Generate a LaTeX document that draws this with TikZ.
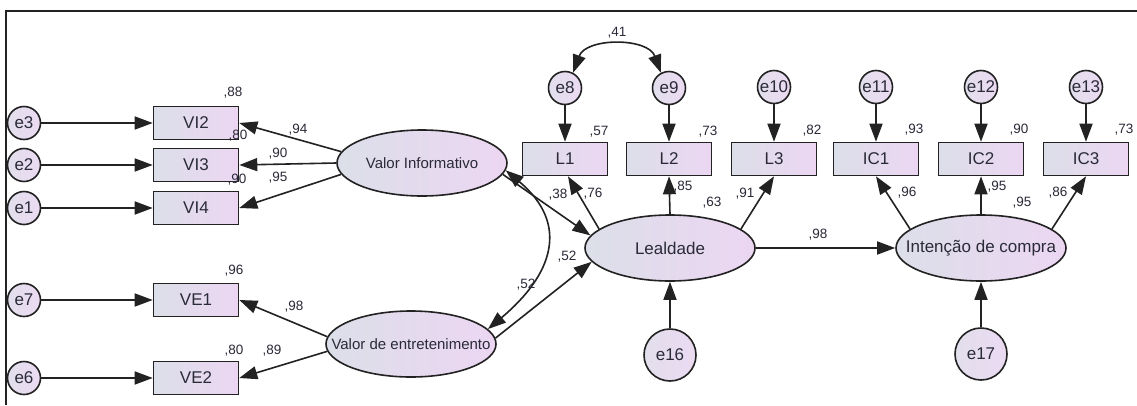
\documentclass[tikz,border=0pt]{standalone}
\usepackage{fontspec}
\setmainfont{Liberation Sans}
\usetikzlibrary{shapes.geometric,arrows.meta}
\definecolor{boxl}{HTML}{DCDFE9}
\definecolor{boxr}{HTML}{ECD6F2}
\definecolor{errl}{HTML}{E2DFEC}
\definecolor{errr}{HTML}{EBDAF2}
\definecolor{linec}{HTML}{222222}
\definecolor{textc}{HTML}{2A2A38}
\tikzset{
  obs/.style={draw=linec, line width=1.6pt, minimum width=85pt, minimum height=33pt,
    left color=boxl, right color=boxr, inner sep=0pt, text=textc,
    font=\fontsize{17}{17}\selectfont},
  lat/.style={ellipse, draw=linec, line width=1.6pt, minimum width=170pt, minimum height=66pt,
    left color=boxl, right color=boxr, inner xsep=-30pt, inner ysep=0pt, text=textc},
  err/.style={circle, draw=linec, line width=1.6pt, minimum size=33pt,
    left color=errl, right color=errr, inner sep=0pt, text=textc,
    font=\fontsize{17}{17}\selectfont},
  errbig/.style={err, minimum size=52pt},
  arr/.style={-{Triangle[length=18pt,width=13pt]}, line width=1.6pt, draw=linec},
  darr/.style={{Triangle[length=18pt,width=13pt]}-{Triangle[length=18pt,width=13pt]}, line width=1.6pt, draw=linec},
  lab/.style={inner sep=0pt, text=textc, font=\fontsize{13.5}{13.5}\selectfont},
  fs15/.style={font=\fontsize{15}{15}\selectfont},
  fs17/.style={font=\fontsize{17}{17}\selectfont}
}
\begin{document}
\begin{tikzpicture}[x=1pt,y=1pt]
\useasboundingbox (0,0) rectangle (1137,-405);
\fill[white] (0,0) rectangle (1137,-405);
\draw[line width=2pt, linec] (6,-405) -- (6,-11) -- (1137,-11);

% left observed variables
\node[obs] (VI2) at (196,-123) {VI2};
\node[obs] (VI3) at (196,-165) {VI3};
\node[obs] (VI4) at (196,-208) {VI4};
\node[obs] (VE1) at (196,-300) {VE1};
\node[obs] (VE2) at (196,-378) {VE2};

\node[err] (e3) at (24,-123) {e3};
\node[err] (e2) at (24,-165) {e2};
\node[err] (e1) at (24,-208) {e1};
\node[err] (e7) at (24,-300) {e7};
\node[err] (e6) at (24,-378) {e6};

% latent variables
\node[lat, fs15] (vi) at (422,-163) {Valor Informativo};
\node[lat, fs15] (ve) at (411,-344) {Valor de entretenimento};
\node[lat, fs17] (lea) at (670,-248) {Lealdade};
\node[lat, fs17] (ic) at (981,-248) {Intenção de compra};

% top observed variables
\node[obs] (L1) at (565,-159) {L1};
\node[obs] (L2) at (669,-159) {L2};
\node[obs] (L3) at (774,-159) {L3};
\node[obs] (IC1) at (876,-159) {IC1};
\node[obs] (IC2) at (981,-159) {IC2};
\node[obs] (IC3) at (1086,-159) {IC3};

\node[err] (e8) at (565,-88) {e8};
\node[err] (e9) at (669,-88) {e9};
\node[err] (e10) at (774,-87) {e10};
\node[err] (e11) at (876,-87) {e11};
\node[err] (e12) at (981,-87) {e12};
\node[err] (e13) at (1086,-87) {e13};

\node[errbig] (e16) at (670,-355) {e16};
\node[errbig] (e17) at (981,-354) {e17};

% error arrows
\draw[arr] (e3) -- (VI2);
\draw[arr] (e2) -- (VI3);
\draw[arr] (e1) -- (VI4);
\draw[arr] (e7) -- (VE1);
\draw[arr] (e6) -- (VE2);
\draw[arr] (e8) -- (L1);
\draw[arr] (e9) -- (L2);
\draw[arr] (e10) -- (L3);
\draw[arr] (e11) -- (IC1);
\draw[arr] (e12) -- (IC2);
\draw[arr] (e13) -- (IC3);
\draw[arr] (e16) -- (lea);
\draw[arr] (e17) -- (ic);

% loadings
\draw[arr] (vi.172) -- (VI2.east);
\draw[arr] (vi.180) -- (VI3.east);
\draw[arr] (vi.188) -- (VI4.east);
\draw[arr] (ve.175) -- (VE1.east);
\draw[arr] (ve.185) -- (VE2.east);
\draw[arr] (lea.165) -- ([xshift=3pt]L1.south);
\draw[arr] (lea.north) -- (L2.south);
\draw[arr] (lea.15) -- (L3.south);
\draw[arr] (ic.165) -- (IC1.south);
\draw[arr] (ic.north) -- (IC2.south);
\draw[arr] (ic.15) -- (IC3.south);

% structural paths
\draw[arr] (vi.-8) -- (lea.171);
\draw[arr] (ve.4) -- (lea.190);
\draw[arr] (lea.east) -- (ic.west);

% covariances
\draw[darr] (vi.-5) to[out=-40,in=40,looseness=1.35] (ve.11);
\draw[darr] (e8.62) to[out=70,in=110,looseness=1.1] (e9.118);

% labels
\node[lab] (l88) at (233,-93) {,88};
\node[lab] (l94) at (298,-130) {,94};
\node[lab] (l80a) at (238,-136) {,80};
\node[lab] (l90a) at (278,-154) {,90};
\node[lab] (l90b) at (237,-180) {,90};
\node[lab] (l95a) at (278,-178) {,95};
\node[lab] (l96a) at (234,-271) {,96};
\node[lab] (l98a) at (294,-307) {,98};
\node[lab] (l80b) at (234,-351) {,80};
\node[lab] (l89) at (272,-351) {,89};
\node[lab] (l41) at (617,-33) {,41};
\node[lab] (l57) at (599,-132) {,57};
\node[lab] (l73a) at (708,-132) {,73};
\node[lab] (l82) at (812,-131) {,82};
\node[lab] (l93) at (914,-130) {,93};
\node[lab] (l90c) at (1019,-130) {,90};
\node[lab] (l73b) at (1124,-130) {,73};
\node[lab] (l38) at (558,-195) {,38};
\node[lab] (l76) at (593,-194) {,76};
\node[lab] (l85) at (683,-187) {,85};
\node[lab] (l63) at (712,-203) {,63};
\node[lab] (l91) at (745,-194) {,91};
\node[lab] (l52a) at (567,-257) {,52};
\node[lab] (l52b) at (526,-285) {,52};
\node[lab] (l98b) at (818,-235) {,98};
\node[lab] (l96b) at (907,-193) {,96};
\node[lab] (l95b) at (997,-187) {,95};
\node[lab] (l95c) at (1022,-203) {,95};
\node[lab] (l86) at (1058,-193) {,86};
\end{tikzpicture}
\end{document}
